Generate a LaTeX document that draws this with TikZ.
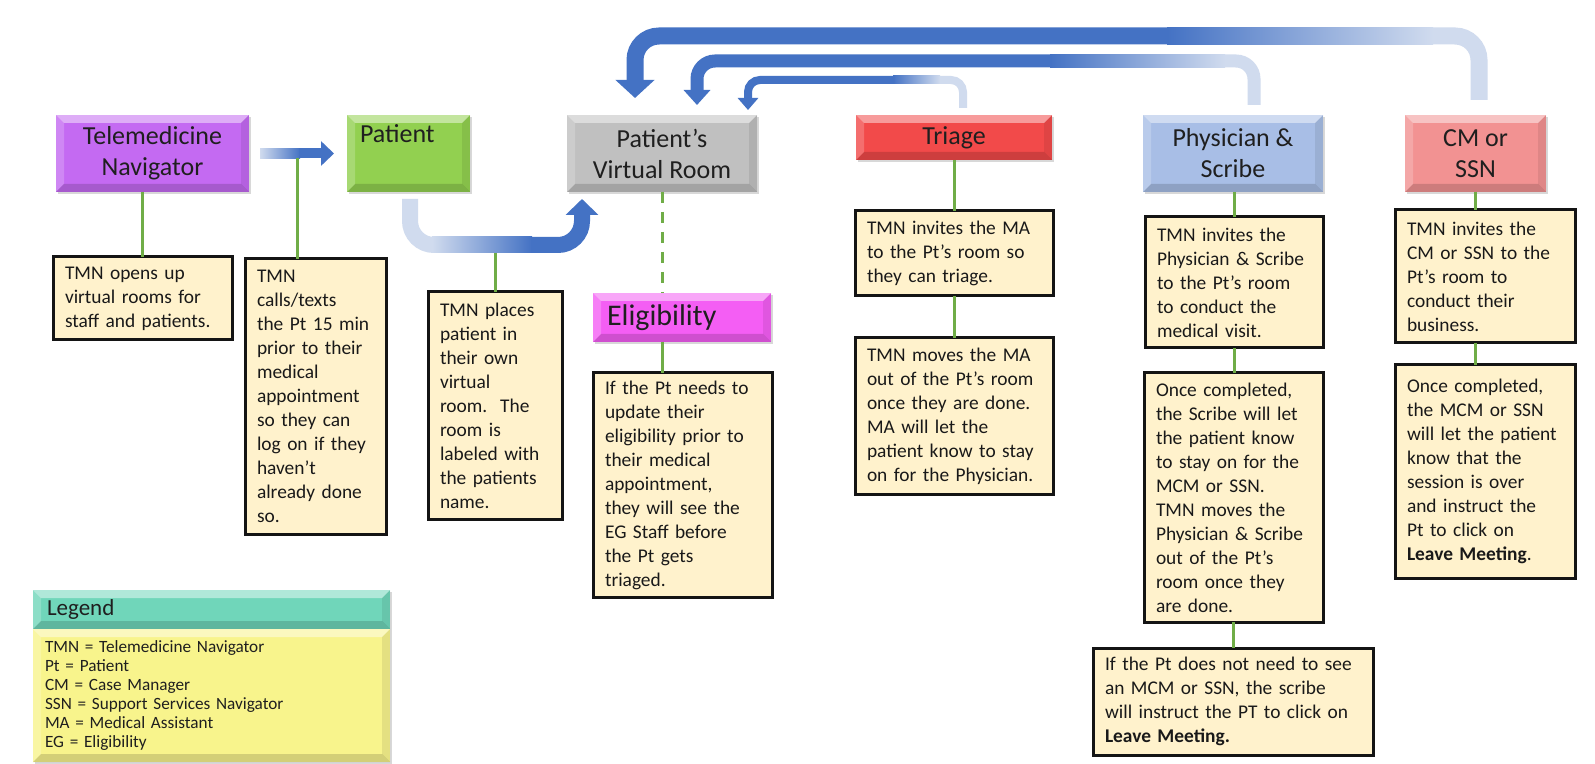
\documentclass[tikz,border=0pt]{standalone}
\usepackage{fontspec}
\setmainfont{Carlito}
\usetikzlibrary{arrows.meta,shadows,calc}
\definecolor{tmnc}{RGB}{196,106,242}
\definecolor{patc}{RGB}{146,208,80}
\definecolor{pvrc}{RGB}{192,192,192}
\definecolor{tric}{RGB}{242,74,74}
\definecolor{phyc}{RGB}{168,190,230}
\definecolor{cmc}{RGB}{242,146,146}
\definecolor{eligc}{RGB}{244,94,244}
\definecolor{beige}{RGB}{255,242,204}
\definecolor{lgh}{RGB}{112,214,186}
\definecolor{lgb}{RGB}{248,244,140}
\definecolor{greenl}{RGB}{112,173,71}
\definecolor{ablue}{RGB}{68,114,196}
\definecolor{apale}{RGB}{208,219,238}
\tikzset{
  bevel/.style={path picture={
    \coordinate (bvNW) at (path picture bounding box.north west);
    \coordinate (bvNE) at (path picture bounding box.north east);
    \coordinate (bvSW) at (path picture bounding box.south west);
    \coordinate (bvSE) at (path picture bounding box.south east);
    \fill[white,opacity=.45] (bvNW) -- (bvNE) -- ([shift={(-4pt,-4pt)}]bvNE) -- ([shift={(4pt,-4pt)}]bvNW) -- cycle;
    \fill[white,opacity=.2] (bvNW) -- ([shift={(4pt,-4pt)}]bvNW) -- ([shift={(4pt,4pt)}]bvSW) -- (bvSW) -- cycle;
    \fill[black,opacity=.08] (bvNE) -- ([shift={(-4pt,-4pt)}]bvNE) -- ([shift={(-4pt,4pt)}]bvSE) -- (bvSE) -- cycle;
    \fill[black,opacity=.15] (bvSW) -- (bvSE) -- ([shift={(-4pt,4pt)}]bvSE) -- ([shift={(4pt,4pt)}]bvSW) -- cycle;
  }},
  hdr/.style={rectangle, anchor=north west, outer sep=0pt, inner sep=0pt, align=center,
    font=\fontsize{13}{15.5}\selectfont, text=black!88, bevel,
    drop shadow={opacity=0.3, shadow xshift=1.2pt, shadow yshift=-1.2pt}},
  tbox/.style={rectangle, anchor=north west, outer sep=0pt, draw=black!92, line width=1.5pt,
    fill=beige, align=left, inner xsep=6pt, inner ysep=3pt,
    font=\fontsize{9.7}{12}\selectfont, text=black!90},
  gline/.style={draw=greenl, line width=1.5pt},
}
\begin{document}
\begin{tikzpicture}[x=0.5pt,y=-0.5pt]
\useasboundingbox[fill=white] (0,0) rectangle (1595,764);

% ---------- header boxes ----------
\node[hdr, fill=tmnc, minimum width=96.5pt, minimum height=38.5pt] (tmn) at (56,115) {Telemedicine\\Navigator};
\node[hdr, fill=patc, minimum width=61.5pt, minimum height=38.5pt, align=left, inner xsep=6.5pt, text width=48.5pt] (pat) at (347,115) {Patient\\\strut};
\node[hdr, fill=pvrc, minimum width=95pt, minimum height=38.5pt] (pvr) at (567,115) {Patient’s\\Virtual Room};
\node[hdr, fill=tric, minimum width=98pt, minimum height=22.5pt] (tri) at (856,115) {Triage};
\node[hdr, fill=phyc, minimum width=90pt, minimum height=38.5pt] (phy) at (1143,115) {Physician \&\\Scribe};
\node[hdr, fill=cmc, minimum width=70.5pt, minimum height=38.5pt] (cm) at (1405,115) {CM or\\SSN};
\node[hdr, fill=eligc, minimum width=89pt, minimum height=24.5pt, align=left, inner xsep=7pt, text width=75pt,
  font=\fontsize{15}{17}\selectfont] (elig) at (593,293) {Eligibility};

% ---------- text boxes ----------
\node[tbox, text width=77.5pt, minimum height=41.5pt] (a) at (53,257)
  {TMN opens up\\virtual rooms for\\staff and patients.};
\node[tbox, text width=58.5pt, minimum height=137.5pt] (b) at (245,259)
  {TMN\\calls/texts\\the Pt 15 min\\prior to their\\medical\\appointment\\so they can\\log on if they\\haven’t\\already done\\so.};
\node[tbox, text width=55pt, minimum height=113.5pt] (c) at (428,292)
  {TMN places\\patient in\\their own\\virtual\\room.\ \ The\\room is\\labeled with\\the patients\\name.};
\node[tbox, text width=77.5pt, minimum height=112pt] (d) at (593,373)
  {If the Pt needs to\\update their\\eligibility prior to\\their medical\\appointment,\\they will see the\\EG Staff before\\the Pt gets\\triaged.};
\node[tbox, text width=87pt, minimum height=42.5pt] (e) at (855,211)
  {TMN invites the MA\\to the Pt’s room so\\they can triage.};
\node[tbox, text width=87pt, minimum height=78pt] (f) at (855,338)
  {TMN moves the MA\\out of the Pt’s room\\once they are done.\\MA will let the\\patient know to stay\\on for the Physician.};
\node[tbox, text width=77pt, minimum height=65.5pt] (g) at (1145,217)
  {TMN invites the\\Physician \& Scribe\\to the Pt’s room\\to conduct the\\medical visit.};
\node[tbox, text width=77.5pt, minimum height=124.5pt] (h) at (1144,373)
  {Once completed,\\the Scribe will let\\the patient know\\to stay on for the\\MCM or SSN.\\TMN moves the\\Physician \& Scribe\\out of the Pt’s\\room once they\\are done.};
\node[tbox, text width=128pt, minimum height=53.5pt] (i) at (1093,648)
  {If the Pt does not need to see\\an MCM or SSN, the scribe\\will instruct the PT to click on\\\textbf{Leave Meeting.}};
\node[tbox, text width=78pt, minimum height=66.5pt] (j) at (1395,210)
  {TMN invites the\\CM or SSN to the\\Pt’s room to\\conduct their\\business.};
\node[tbox, text width=78pt, minimum height=106.5pt] (k) at (1395,365)
  {Once completed,\\the MCM or SSN\\will let the patient\\know that the\\session is over\\and instruct the\\Pt to click on\\\textbf{Leave Meeting}.};

% ---------- legend ----------
\node[hdr, fill=lgh, minimum width=178.5pt, minimum height=19.5pt, align=left, inner xsep=7pt, text width=164.5pt,
  font=\fontsize{11.5}{13}\selectfont] (lgh) at (33,590) {Legend};
\node[hdr, fill=lgb, minimum width=178.5pt, minimum height=66.5pt, align=left, inner xsep=6pt, text width=166.5pt,
  font=\fontsize{8.6}{9.5}\selectfont] (lgb) at (33,629)
  {TMN = Telemedicine Navigator\\Pt = Patient\\CM = Case Manager\\SSN = Support Services Navigator\\MA = Medical Assistant\\EG = Eligibility};

% ---------- TMN -> Patient arrow ----------
\coordinate (s0) at ([xshift=5.5pt]tmn.east);
\coordinate (g0) at (300,153.5);
\coordinate (t0) at ([xshift=-6.5pt]pat.west);
\fill[left color=apale, right color=ablue] ([yshift=2.5pt]s0) rectangle ([yshift=-2.5pt]g0);
\draw[draw=ablue, line width=5pt, -{Triangle[width=12pt,length=6.5pt]}] ([xshift=-0.5pt]g0) -- (t0);

% ---------- Patient -> Patient's Virtual Room (U arrow) ----------
\coordinate (sU) at (410,199);
\coordinate (gUa) at (432,245);
\coordinate (gUb) at (532,245);
\coordinate (tU) at (582,199);
\draw[draw=apale, line width=8pt, rounded corners=12pt] (sU) |- ([xshift=0.5pt]gUa);
\fill[left color=apale, right color=ablue] ([yshift=4pt]gUa) rectangle ([yshift=-4pt]gUb);
\draw[draw=ablue, line width=8pt, rounded corners=12pt, -{Triangle[width=16pt,length=8pt]}] ([xshift=-0.5pt]gUb) -| (tU);

% ---------- return arrows to Patient's Virtual Room ----------
% from CM or SSN
\coordinate (s3) at (1479,100);
\coordinate (g3b) at (1433,36);
\coordinate (g3a) at (1167,36);
\coordinate (t3) at (635,98);
\draw[draw=apale, line width=8.5pt, rounded corners=12pt] (s3) |- ([xshift=-0.5pt]g3b);
\fill[left color=ablue, right color=apale] ([yshift=4.25pt]g3a) rectangle ([yshift=-4.25pt]g3b);
\draw[draw=ablue, line width=8.5pt, rounded corners=12pt, -{Triangle[width=19pt,length=9pt]}] ([xshift=0.5pt]g3a) -| (t3);
% from Physician & Scribe
\coordinate (s2) at (1254,105);
\coordinate (g2b) at (1225,61);
\coordinate (g2a) at (1050,61);
\coordinate (t2) at (697,105);
\draw[draw=apale, line width=6.5pt, rounded corners=9pt] (s2) |- ([xshift=-0.5pt]g2b);
\fill[left color=ablue, right color=apale] ([yshift=3.25pt]g2a) rectangle ([yshift=-3.25pt]g2b);
\draw[draw=ablue, line width=6.5pt, rounded corners=9pt, -{Triangle[width=13pt,length=7.5pt]}] ([xshift=0.5pt]g2a) -| (t2);
% from Triage
\coordinate (s1) at (963,108);
\coordinate (g1b) at (940,80);
\coordinate (g1a) at (893,80);
\coordinate (t1) at (748,110);
\draw[draw=apale, line width=4pt, rounded corners=6pt] (s1) |- ([xshift=-0.5pt]g1b);
\fill[left color=ablue, right color=apale] ([yshift=2pt]g1a) rectangle ([yshift=-2pt]g1b);
\draw[draw=ablue, line width=4pt, rounded corners=6pt, -{Triangle[width=10pt,length=6pt]}] ([xshift=0.5pt]g1a) -| (t1);

% ---------- green connectors ----------
\coordinate (ab) at (297,158);
\coordinate (uc) at (495,253);
\draw[gline] (a.north |- tmn.south) -- (a.north);
\draw[gline] (ab) -- (ab |- b.north);
\draw[gline] (uc) -- (uc |- c.north);
\draw[gline, dash pattern=on 5.5pt off 4.5pt] (pvr.south) -- (pvr.south |- elig.north);
\draw[gline] (pvr.south |- elig.south) -- (pvr.south |- d.north);
\draw[gline] (e.north |- tri.south) -- (e.north);
\draw[gline] (e.south) -- (f.north);
\draw[gline] (g.north |- phy.south) -- (g.north);
\draw[gline] (g.south) -- (g.south |- h.north);
\draw[gline] (h.south) -- (h.south |- i.north);
\draw[gline] (cm.south) -- (cm.south |- j.north);
\draw[gline] (cm.south |- j.south) -- (cm.south |- k.north);
\end{tikzpicture}
\end{document}
